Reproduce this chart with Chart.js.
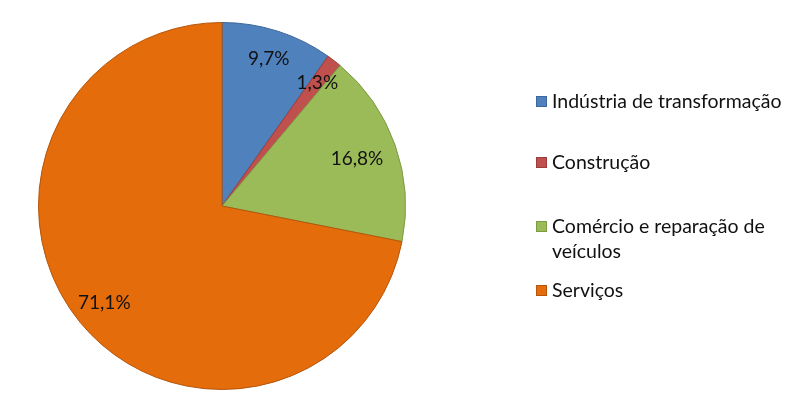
<!DOCTYPE html>
<html>
<head>
<meta charset="utf-8">
<script src="https://cdn.jsdelivr.net/npm/chart.js@4"></script>
<style>
  html, body { margin: 0; padding: 0; background: #fff; }
  #wrap { position: relative; width: 804px; height: 412px; }
  #c { position: absolute; left: 0; top: 0; }
  #legend { position: absolute; left: 536px; top: 88px; font-family: Lato, "Open Sans", sans-serif; font-size: 19.5px; color: #111; }
  .item { position: absolute; left: 0; white-space: nowrap; line-height: 25px; }
  .sw { position: absolute; left: 0; top: 8px; width: 11px; height: 11px; box-sizing: border-box; }
  .tx { position: absolute; left: 16px; top: 0; }
</style>
</head>
<body>
<div id="wrap">
  <canvas id="c" width="804" height="412"></canvas>
  <div id="legend"></div>
</div>
<script>
const categories = ["Indústria de transformação", "Construção", "Comércio e reparação de veículos", "Serviços"];
const legendLines = [["Indústria de transformação"], ["Construção"], ["Comércio e reparação de", "veículos"], ["Serviços"]];
const values = [9.7, 1.3, 16.8, 71.1];
const valueLabels = ["9,7%", "1,3%", "16,8%", "71,1%"];
const colors = ["#4F81BD", "#C0504D", "#9BBB59", "#E46C0A"];
const borderColors = ["#3C679A", "#9A3C3A", "#7D9A45", "#B3560B"];

const labelPlugin = {
  id: 'sliceLabels',
  afterDatasetsDraw(chart) {
    const ctx = chart.ctx;
    const meta = chart.getDatasetMeta(0);
    ctx.save();
    ctx.font = '19px Lato, "Open Sans", sans-serif';
    ctx.fillStyle = '#111';
    ctx.textAlign = 'center';
    ctx.textBaseline = 'middle';
    const factors = [0.84, 0.85, 0.78, 0.83];
    meta.data.forEach((arc, i) => {
      const p = arc.getProps(['x', 'y', 'startAngle', 'endAngle', 'outerRadius'], true);
      const mid = (p.startAngle + p.endAngle) / 2;
      const r = p.outerRadius * factors[i];
      ctx.fillText(valueLabels[i], p.x + Math.cos(mid) * r, p.y + Math.sin(mid) * r);
    });
    ctx.restore();
  }
};

new Chart(document.getElementById('c'), {
  type: 'pie',
  data: {
    labels: categories,
    datasets: [{
      data: values,
      backgroundColor: colors,
      borderColor: borderColors,
      borderWidth: 1
    }]
  },
  options: {
    responsive: false,
    animation: false,
    layout: { padding: { left: 38, right: 398, top: 22, bottom: 22 } },
    plugins: { legend: { display: false }, tooltip: { enabled: false } }
  },
  plugins: [labelPlugin]
});

const legendTops = [0, 61, 125, 189];
const lg = document.getElementById('legend');
legendLines.forEach((lines, i) => {
  const it = document.createElement('div');
  it.className = 'item';
  it.style.top = legendTops[i] + 'px';
  const sw = document.createElement('div');
  sw.className = 'sw';
  sw.style.background = colors[i];
  sw.style.border = '1px solid ' + borderColors[i];
  const tx = document.createElement('div');
  tx.className = 'tx';
  tx.innerHTML = lines.join('<br>');
  it.appendChild(sw);
  it.appendChild(tx);
  lg.appendChild(it);
});
</script>
</body>
</html>
